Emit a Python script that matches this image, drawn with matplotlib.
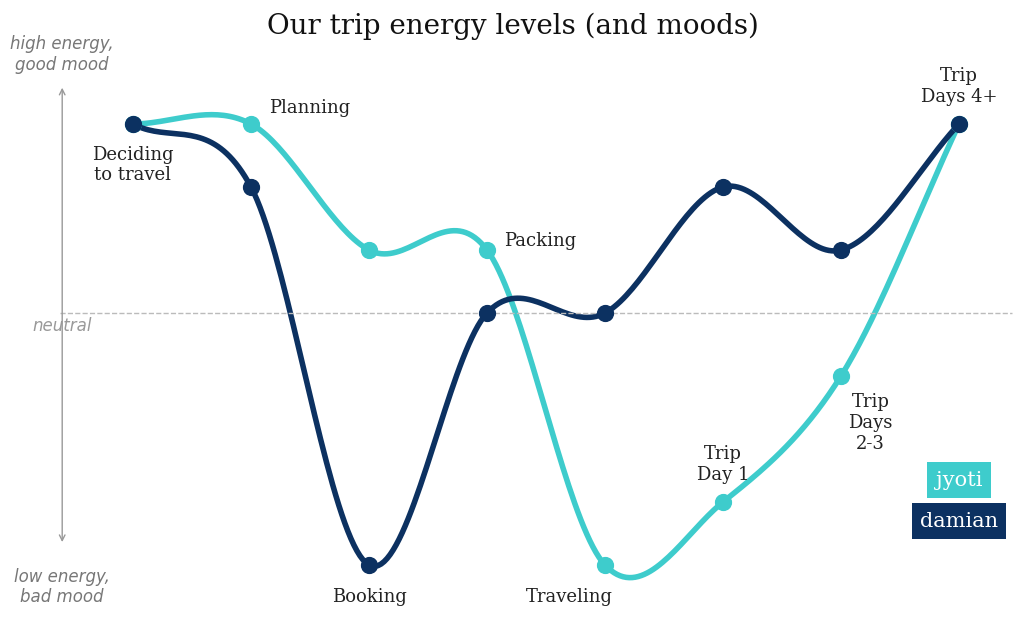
import matplotlib
matplotlib.use("Agg")
import matplotlib.pyplot as plt
import numpy as np

stages = ["Deciding\nto travel", "Planning", "", "Packing", "Traveling",
          "Trip\nDay 1", "Trip\nDays\n2-3", "Trip\nDays 4+"]
jyoti = [3, 3, 1, 1, -4, -3, -1, 3]
damian = [3, 2, -4, 0, 0, 2, 1, 3]
extra_labels = {2: "Booking"}

TEAL = "#3ecccc"
NAVY = "#0c3161"
SERIF = "DejaVu Serif"


def smooth(x, y, n=40):
    # Catmull-Rom style Hermite curve, used only to draw the line
    x = np.asarray(x, float); y = np.asarray(y, float)
    k = len(x)
    m = np.empty(k)
    m[0] = y[1] - y[0]; m[-1] = y[-1] - y[-2]
    m[1:-1] = (y[2:] - y[:-2]) / 2
    xs, ys = [], []
    for i in range(k - 1):
        t = np.linspace(0, 1, n)
        h00 = 2 * t**3 - 3 * t**2 + 1; h10 = t**3 - 2 * t**2 + t
        h01 = -2 * t**3 + 3 * t**2; h11 = t**3 - t**2
        xs.append(x[i] + t * (x[i + 1] - x[i]))
        ys.append(h00 * y[i] + h10 * m[i] + h01 * y[i + 1] + h11 * m[i + 1])
    return np.concatenate(xs), np.concatenate(ys)


fig = plt.figure(figsize=(10.24, 6.18), dpi=100)
ax = fig.add_axes([0, 0, 1, 1])
ax.set_xlim(-133 / 118, (1024 - 133) / 118)
ax.set_ylim(-(618 - 313) / 63, 313 / 63)
ax.axis("off")

xs = np.arange(len(jyoti))
for vals, col in [(jyoti, TEAL), (damian, NAVY)]:
    sx, sy = smooth(xs, vals)
    ax.plot(sx, sy, color=col, lw=4, solid_capstyle="round")
    ax.scatter(xs, vals, s=130, color=col, zorder=3)

ax.axhline(0, xmin=60 / 1024, xmax=1012 / 1024, color="#bbbbbb", ls="--", lw=1)
ax.annotate("", xy=(-0.6, 3.62), xytext=(-0.6, -3.68),
            arrowprops=dict(arrowstyle="<->", color="#999999", lw=1))
ax.text(-0.6, -0.2, "neutral", color="#999999", style="italic", fontsize=12, ha="center", va="center")
ax.text(-0.6, 4.1, "high energy,\ngood mood", color="#777777", style="italic", fontsize=12, ha="center", va="center")
ax.text(-0.6, -4.35, "low energy,\nbad mood", color="#777777", style="italic", fontsize=12, ha="center", va="center")

lab = dict(fontsize=13, family=SERIF, color="#222222", ha="center", va="center")
ax.text(0.0, 2.35, stages[0], **lab)
ax.text(1.5, 3.25, stages[1], **lab)
ax.text(2.0, -4.5, extra_labels[2], **lab)
ax.text(3.45, 1.15, stages[3], **lab)
ax.text(3.7, -4.5, stages[4], **lab)
ax.text(5.0, -2.4, stages[5], **lab)
ax.text(6.25, -1.75, stages[6], **lab)
ax.text(7.0, 3.6, stages[7], **lab)

ax.text(3.22, 4.55, "Our trip energy levels (and moods)", fontsize=20,
        family=SERIF, color="#111111", ha="center", va="center")

for name, col, yc in [("jyoti", TEAL, -2.62), ("damian", NAVY, -3.27)]:
    ax.text(7.0, yc, name, fontsize=15, family=SERIF, color="white",
            ha="center", va="center_baseline",
            bbox=dict(boxstyle="square,pad=0.4", fc=col, ec="none"))

fig.savefig("out.png", dpi=100)
